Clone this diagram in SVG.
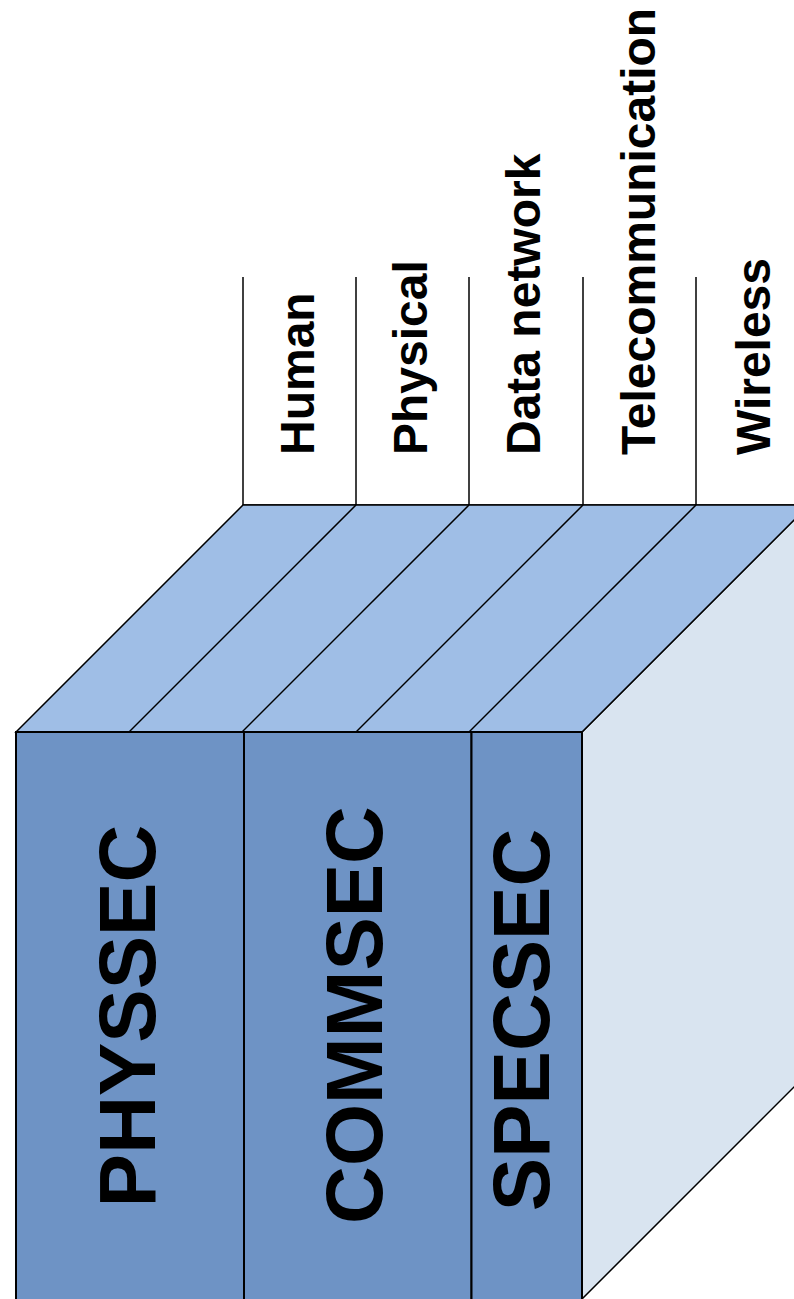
<svg xmlns="http://www.w3.org/2000/svg" width="794" height="1299" viewBox="0 0 794 1299">
  <style>
    .top { fill: #9fbee6; stroke: #000; stroke-width: 1.5; stroke-linejoin: miter; }
    .front { fill: #6e93c5; stroke: #000; stroke-width: 2; }
    .side { fill: #d9e4f0; stroke: #000; stroke-width: 1.5; }
    .rule { stroke: #000; stroke-width: 1.5; fill: none; }
    .big { font-family: "Liberation Sans", Arial, sans-serif; font-weight: bold; font-size: 80px; fill: #000; text-anchor: middle; }
    .lbl { font-family: "Liberation Sans", Arial, sans-serif; font-weight: bold; font-size: 48px; fill: #000; text-anchor: start; }
  </style>
  <rect width="794" height="1299" fill="#fff"/>

  <!-- label columns above the block -->
  <g id="columns">
    <line class="rule" x1="243" y1="277" x2="243" y2="505"/>
    <line class="rule" x1="356" y1="277" x2="356" y2="505"/>
    <line class="rule" x1="469" y1="277" x2="469" y2="505"/>
    <line class="rule" x1="583" y1="277" x2="583" y2="505"/>
    <line class="rule" x1="696" y1="277" x2="696" y2="505"/>
    <line class="rule" x1="243" y1="505" x2="794" y2="505"/>
  </g>

  <g id="label-human"><text class="lbl" transform="translate(314,455) rotate(-90)">Human</text></g>
  <g id="label-physical"><text class="lbl" transform="translate(427,455) rotate(-90)">Physical</text></g>
  <g id="label-datanetwork"><text class="lbl" transform="translate(540,455) rotate(-90)">Data network</text></g>
  <g id="label-telecom"><text class="lbl" transform="translate(655,455) rotate(-90)">Telecommunication</text></g>
  <g id="label-wireless"><text class="lbl" transform="translate(770,455) rotate(-90)">Wireless</text></g>

  <!-- right side face -->
  <g id="side-face">
    <polygon class="side" points="582,732 809,505 809,1072 582,1299"/>
  </g>

  <!-- top face with layer strips -->
  <g id="top-face">
    <polygon class="top" points="16,732 243,505 809,505 582,732"/>
    <line class="rule" x1="356" y1="505" x2="129" y2="732"/>
    <line class="rule" x1="469" y1="505" x2="242" y2="732"/>
    <line class="rule" x1="583" y1="505" x2="356" y2="732"/>
    <line class="rule" x1="696" y1="505" x2="469" y2="732" stroke-width="2.2"/>
  </g>

  <!-- front face blocks -->
  <g id="physsec">
    <rect class="front" x="16" y="732" width="228" height="580"/>
    <text class="big" transform="translate(155,1016) rotate(-90)">PHYSSEC</text>
  </g>
  <g id="commsec">
    <rect class="front" x="244" y="732" width="227.5" height="580"/>
    <text class="big" transform="translate(382,1015) rotate(-90)">COMMSEC</text>
  </g>
  <g id="specsec">
    <rect class="front" x="471.5" y="732" width="110.5" height="580"/>
    <text class="big" transform="translate(549,1020) rotate(-90)">SPECSEC</text>
  </g>
</svg>
